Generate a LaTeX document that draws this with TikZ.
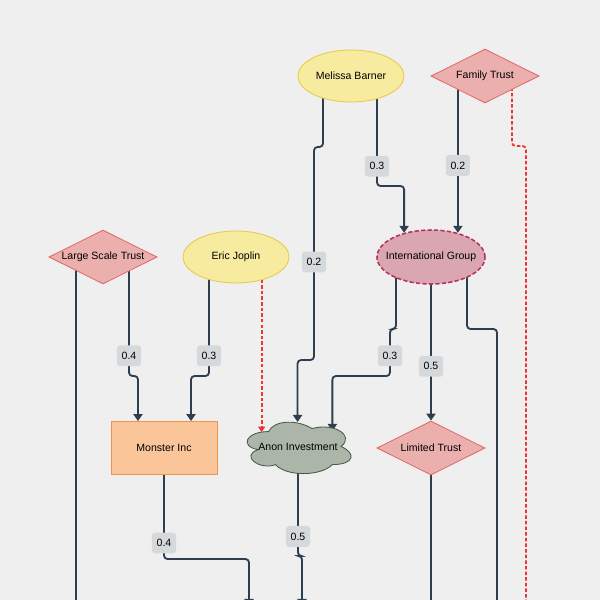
\documentclass[tikz,border=0pt]{standalone}
\usepackage{fontspec}
\setmainfont{Liberation Sans}
\usetikzlibrary{arrows.meta,calc,shapes.geometric}

\definecolor{pagebg}{HTML}{EFEFEF}
\definecolor{ownc}{HTML}{2C3E50}
\definecolor{tiec}{HTML}{EE3333}
\definecolor{labelc}{HTML}{D6D9DC}
\definecolor{personfill}{HTML}{F7EB9F}
\definecolor{personline}{HTML}{E9C84A}
\definecolor{trustfill}{HTML}{EBB0AE}
\definecolor{trustline}{HTML}{E06868}
\definecolor{groupfill}{HTML}{D9A6B2}
\definecolor{groupline}{HTML}{B5325A}
\definecolor{companyfill}{HTML}{F9C599}
\definecolor{companyline}{HTML}{F0924E}
\definecolor{fundfill}{HTML}{ABB6A9}
\definecolor{fundline}{HTML}{46594B}

\pgfdeclarelayer{back}
\pgfdeclarelayer{links}
\pgfdeclarelayer{shapes}
\pgfsetlayers{back,links,shapes,main}

\newcommand{\widename}[1]{\makebox[0pt]{#1}}

\tikzset{
  entity/.style={font=\fontsize{7.5}{9}\selectfont, inner sep=0pt, line width=0.6pt},
  person/.style={entity, ellipse, draw=personline, fill=personfill, minimum width=2.65cm, minimum height=1.3cm},
  trust/.style={entity, diamond, aspect=2, draw=trustline, fill=trustfill, minimum width=2.7cm, minimum height=1.35cm},
  group/.style={entity, ellipse, draw=groupline, fill=groupfill, line width=1.1pt, dash pattern=on 3pt off 1.6pt, minimum width=2.7cm, minimum height=1.35cm},
  company/.style={entity, rectangle, draw=companyline, fill=companyfill, minimum width=2.65cm, minimum height=1.325cm},
  fund/.style={entity, rectangle, minimum width=2.9cm, minimum height=1.5cm},
  fundshape/.style={fill=fundfill, draw=fundline, line width=0.6pt},
  own/.style={draw=ownc, line width=1.3pt, rounded corners=2.5pt, -{Triangle[length=5pt,width=6.5pt]}},
  tie/.style={draw=tiec, line width=1.3pt, dash pattern=on 2.5pt off 1.5pt, rounded corners=2.5pt, -{Triangle[length=4pt,width=5pt]}},
  wlabel/.style={entity, fill=labelc, rounded corners=2pt, minimum width=0.6cm, minimum height=0.52cm}
}

\begin{document}
\begin{tikzpicture}[x=0.025cm, y=-0.025cm]
\useasboundingbox (0,0) rectangle (600,600);
\begin{pgfonlayer}{back}
\fill[pagebg] (0,0) rectangle (600,600);
\end{pgfonlayer}
% holders
\node[person] (mb) at (351,76) {Melissa Barner};
\node[trust] (ft) at (485,76) {Family Trust};
\node[trust] (lst) at (103,257) {Large Scale Trust};
\node[person] (ej) at (236,257) {Eric Joplin};
\node[group] (ig) at (431,257) {\widename{International Group}};
\node[company] (mi) at (164,448) {Monster Inc};
\node[fund] (ai) at (298,447) {Anon Investment};
\node[trust] (lt) at (431,448) {Limited Trust};
% cloud outline of the fund
\begin{pgfonlayer}{shapes}
\begin{scope}[shift={(ai.north west)}, x=2.9cm, y=-1.5cm]
\draw[fundshape] (0.25,0.25) .. controls (0.05,0.25) and (0,0.5) .. (0.16,0.55)
  .. controls (0,0.66) and (0.18,0.9) .. (0.31,0.8)
  .. controls (0.4,1) and (0.7,1) .. (0.8,0.8)
  .. controls (1,0.8) and (1,0.6) .. (0.875,0.5)
  .. controls (1,0.3) and (0.8,0.1) .. (0.625,0.2)
  .. controls (0.5,0.05) and (0.3,0.05) .. (0.25,0.25) -- cycle;
\coordinate (ai-top) at (0.5,0.09);
\coordinate (ai-right) at (0.8,0.24);
\coordinate (ai-left) at (0.19,0.26);
\end{scope}
\end{pgfonlayer}
% ends below the page
\coordinate (d1) at (76,640);
\coordinate (d2) at (249,606);
\coordinate (d3) at (302,606);
\coordinate (d4) at (431,640);
\coordinate (d5) at (497,640);
\coordinate (d6) at (526,640);
\begin{pgfonlayer}{links}
\draw[own] ($(mb)+(-28,0)$) -- (323,147) -- (314,147) -- node[wlabel,pos=0.54]{0.2} (314,360) -| (ai-top);
\draw[own] ($(mb)+(26,0)$) -- node[wlabel,pos=0.82]{0.3} (377,186) -| (ig.138);
\draw[own] (ig.42 |- ft) -- node[wlabel,pos=0.57]{0.2} (ig.42);
\draw[tie] ($(ft)+(27,0)$) -- (512,146) -- (526,146) -- (d6);
\draw[own] ($(lst)+(-27,0)$) -- (d1);
\draw[own] ($(lst)+(26,0)$) -- node[wlabel,pos=0.83]{0.4} (129,376) -| ($(mi.north)+(-26,0)$);
\draw[own] ($(ej)+(-27,0)$) -- node[wlabel,pos=0.83]{0.3} (209,376) -| ($(mi.north)+(27,0)$);
\draw[tie] (ai-left |- ej) -- (ai-left);
\draw[own] ($(ig)+(-35,0)$) -- (396,329) -- (390,329) -- node[wlabel,pos=0.57]{0.3} (390,376) -| (ai-right);
\draw[own] (ig) -- node[wlabel,pos=0.6]{0.5} (lt.north);
\draw[own] ($(ig)+(36,0)$) -- (467,329) -- (497,329) -- (d5);
\draw[own] (mi) -- node[wlabel,pos=0.81]{0.4} (164,559) -| (d2);
\draw[own] (ai.center) -- node[wlabel,pos=0.82]{0.5} (298,556) -| (d3);
\draw[own] (lt) -- (d4);
\end{pgfonlayer}
\end{tikzpicture}
\end{document}
